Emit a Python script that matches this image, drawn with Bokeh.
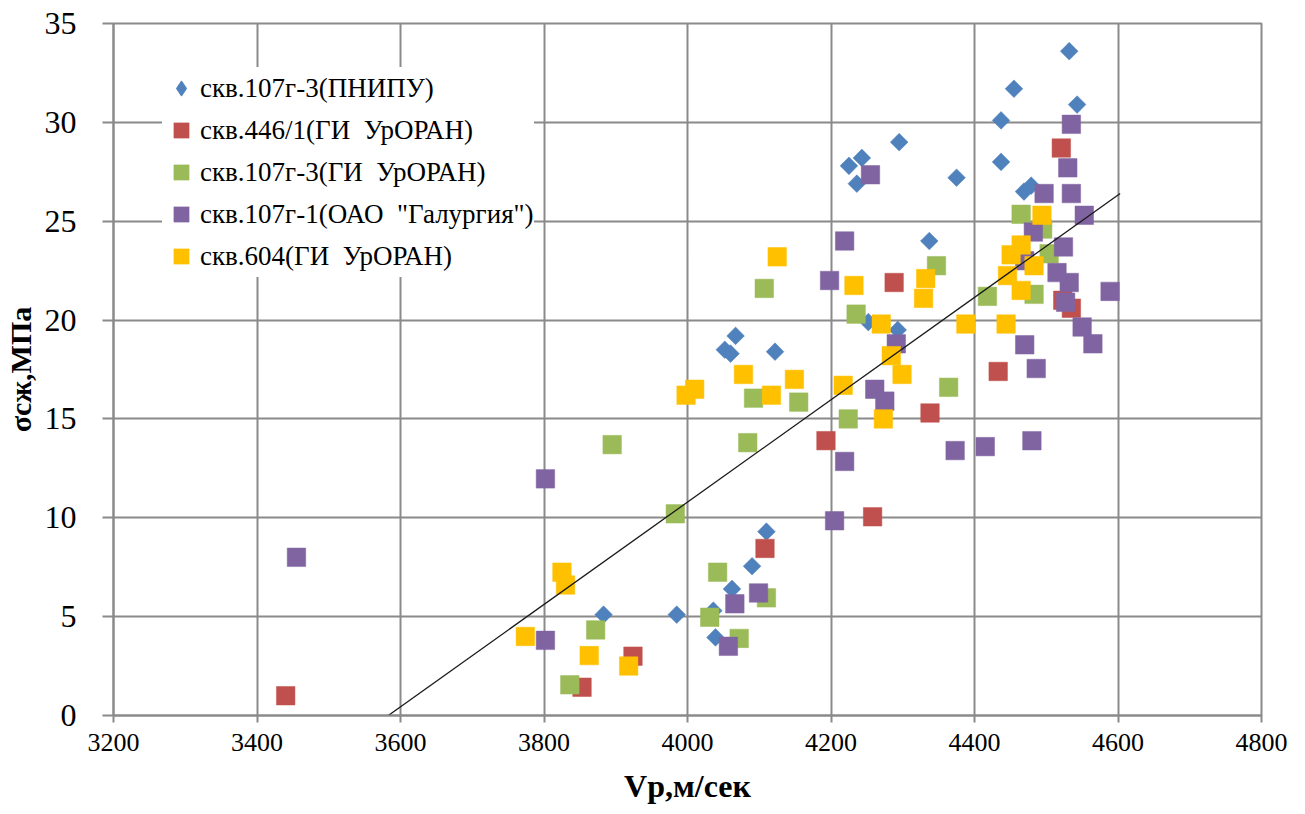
import numpy as np
from bokeh.plotting import figure
from bokeh.models import FixedTicker, Legend, LegendItem
from bokeh.embed import file_html
from bokeh.resources import INLINE

# ---- data ----
labels = ['скв.107г-3(ПНИПУ)', 'скв.446/1(ГИ  УрОРАН)', 'скв.107г-3(ГИ  УрОРАН)',
          'скв.107г-1(ОАО  "Галургия")', 'скв.604(ГИ  УрОРАН)']

pnipu_x = [4532, 4455, 4543, 4437, 4437, 4295, 4375, 4243, 4225, 4236, 4469, 4479, 4337,
           4293, 4252, 4067, 4052, 4060, 4122, 4110, 4090, 4062, 4036, 4039, 3985, 3883]
pnipu_y = [33.6, 31.7, 30.9, 30.1, 28.0, 29.0, 27.2, 28.2, 27.8, 26.9, 26.5, 26.8, 24.0,
           19.5, 19.9, 19.2, 18.5, 18.3, 18.4, 9.3, 7.55, 6.4, 5.3, 3.95, 5.1, 5.1]

w446_x = [3440, 4521, 4523, 4535, 4288, 4433, 4338, 4193, 4258, 4108, 3924, 3853]
w446_y = [1.0, 28.7, 21.0, 20.6, 21.9, 17.4, 15.3, 13.9, 10.05, 8.45, 3.0, 1.43]

w107gi_x = [4107, 3895, 3983, 4092, 4155, 4084, 4224, 4235, 4042, 3872, 3836, 4031, 4072,
            4110, 4347, 4465, 4495, 4504, 4418, 4483, 4364]
w107gi_y = [21.6, 13.7, 10.2, 16.05, 15.85, 13.8, 15.0, 20.3, 7.25, 4.33, 1.55, 4.97, 3.9,
            5.95, 22.75, 25.35, 24.6, 23.35, 21.2, 21.3, 16.6]

galurg_x = [3455, 3802, 3802, 4255, 4535, 4530, 4497, 4535, 4553, 4482, 4524, 4219, 4198,
            4515, 4532, 4589, 4527, 4550, 4565, 4470, 4291, 4261, 4275, 4470, 4486, 4373,
            4415, 4480, 4219, 4205, 4099, 4066, 4057]
galurg_y = [8.0, 11.97, 3.8, 27.35, 29.9, 27.7, 26.4, 26.4, 25.3, 24.45, 23.7, 24.0, 22.0,
            22.4, 21.9, 21.45, 20.9, 19.65, 18.8, 23.0, 18.8, 16.5, 15.9, 18.75, 17.55, 13.4,
            13.6, 13.9, 12.85, 9.85, 6.2, 5.65, 3.5]

w604_x = [4125, 3998, 4010, 4078, 4117, 4149, 4217, 3825, 3830, 3774, 3863, 3918, 4273,
          4299, 4284, 4270, 4388, 4444, 4329, 4465, 4494, 4232, 4332, 4465, 4451, 4483, 4446]
w604_y = [23.2, 16.2, 16.5, 17.25, 16.2, 17.0, 16.7, 7.25, 6.6, 4.0, 3.03, 2.5, 15.0,
          17.25, 18.2, 19.8, 19.8, 19.8, 21.1, 21.5, 25.3, 21.75, 22.1, 23.8, 23.3, 22.75, 22.25]

trend_x = [3583, 4603]
trend_y = [0.0, 26.4]

x_ticks = [3200, 3400, 3600, 3800, 4000, 4200, 4400, 4600, 4800]
y_ticks = [0, 5, 10, 15, 20, 25, 30, 35]

colors = ["#4F81BD", "#C0504D", "#9BBB59", "#8064A2", "#FFC000"]
grid_c = "#8a8a8a"
serif = "Liberation Serif"

p = figure(width=1305, height=814, x_range=(3200, 4800), y_range=(0, 35),
           output_backend="svg", toolbar_location=None,
           min_border_left=110, min_border_right=44, min_border_top=23, min_border_bottom=99)

p.background_fill_color = "white"
p.border_fill_color = "white"
p.outline_line_color = grid_c
p.outline_line_width = 2

xax = p.xaxis[0]
yax = p.yaxis[0]
xax.ticker = FixedTicker(ticks=x_ticks)
yax.ticker = FixedTicker(ticks=y_ticks)
p.xgrid[0].ticker = FixedTicker(ticks=x_ticks)
p.ygrid[0].ticker = FixedTicker(ticks=y_ticks)
for g in (p.xgrid[0], p.ygrid[0]):
    g.grid_line_color = grid_c
    g.grid_line_width = 2

for ax in (xax, yax):
    ax.axis_line_color = grid_c
    ax.axis_line_width = 2
    ax.major_tick_line_color = grid_c
    ax.major_tick_line_width = 2
    ax.major_tick_in = 0
    ax.minor_tick_line_color = None
    ax.major_label_text_color = "black"
    ax.major_label_text_font = serif
    ax.major_label_text_font_style = "normal"
    ax.axis_label_text_font = serif
    ax.axis_label_text_font_style = "bold"
    ax.axis_label_text_color = "black"

xax.major_tick_out = 7
xax.major_label_standoff = 11
xax.major_label_text_font_size = "26px"
xax.axis_label = "Vp,м/сек"
xax.axis_label_text_font_size = "32px"
xax.axis_label_standoff = 14

yax.major_tick_out = 11
yax.major_label_standoff = 26
yax.major_label_text_font_size = "32px"
yax.axis_label = "σсж,МПа"
yax.axis_label_text_font_size = "30px"
yax.axis_label_standoff = 5

series = [(pnipu_x, pnipu_y), (w446_x, w446_y), (w107gi_x, w107gi_y),
          (galurg_x, galurg_y), (w604_x, w604_y)]
items = []
for i, ((xs, ys), c, lab) in enumerate(zip(series, colors, labels)):
    if i == 0:
        r = p.scatter(xs, ys, marker="square", angle=np.pi / 4, size=12.5,
                      fill_color=c, line_color=c, line_width=0.5)
        # legend key only (diamond shape)
        rl = p.scatter([np.nan], [np.nan], marker="diamond", size=12.5, fill_color=c, line_color=c)
        items.append(LegendItem(label=lab, renderers=[rl]))
    else:
        r = p.scatter(xs, ys, marker="square", size=18.5,
                      fill_color=c, line_color=c, line_width=0.5)
        items.append(LegendItem(label=lab, renderers=[r]))

p.line(trend_x, trend_y, line_color="#1a1a1a", line_width=1.3)

legend = Legend(items=items, location=(49, 438), label_text_font=serif,
                label_text_font_style="normal", label_text_font_size="27px")
legend.background_fill_color = "white"
legend.background_fill_alpha = 1.0
legend.border_line_color = None
legend.padding = 2
legend.margin = 0
legend.spacing = 0
legend.glyph_width = 38
legend.glyph_height = 42
legend.label_height = 30
legend.label_standoff = 0
legend.label_text_color = "black"
p.add_layout(legend, "center")

open("out.html", "w").write(file_html(p, INLINE))
